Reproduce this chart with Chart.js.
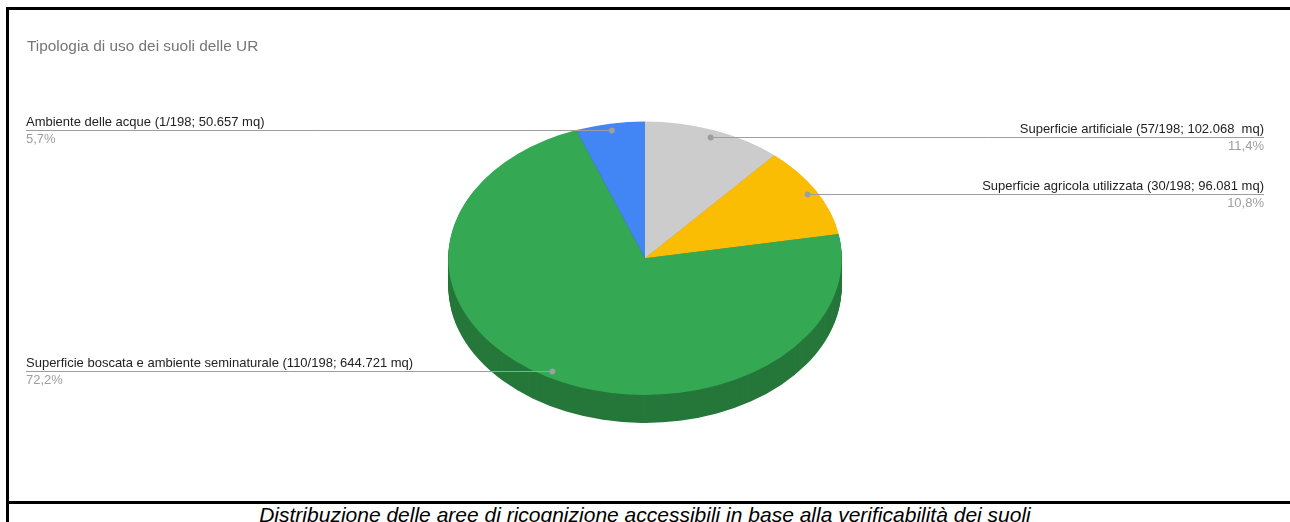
<!DOCTYPE html>
<html>
<head>
<meta charset="utf-8">
<script src="https://cdn.jsdelivr.net/npm/chart.js@4"></script>
<style>
  html, body { margin: 0; padding: 0; background: #fff; }
  body { width: 1290px; height: 522px; position: relative; overflow: hidden; font-family: "Liberation Sans", Arial, sans-serif; }
  #chart { position: absolute; left: 0; top: 0; }
  .frame { position: absolute; left: 6px; top: 7px; width: 1300px; height: 491px; border-left: 3px solid #000; border-top: 3px solid #000; border-bottom: 3px solid #000; }
  .frame-tail { position: absolute; left: 6px; top: 500px; height: 30px; border-left: 3px solid #000; }
  .caption { position: absolute; left: 9px; width: 1272px; top: 503px; text-align: center; font-style: italic; font-size: 21px; color: #000; white-space: nowrap; }
</style>
</head>
<body>
<div class="frame"></div>
<div class="frame-tail"></div>
<canvas id="chart" width="1290" height="500"></canvas>
<div class="caption">Distribuzione delle aree di ricognizione accessibili in base alla verificabilità dei suoli</div>
<script>
/* ---- data ---- */
const categories = [
  'Superficie artificiale (57/198; 102.068  mq)',
  'Superficie agricola utilizzata (30/198; 96.081 mq)',
  'Superficie boscata e ambiente seminaturale (110/198; 644.721 mq)',
  'Ambiente delle acque (1/198; 50.657 mq)'
];
const areas = [102.068, 96.081, 644.721, 50.657];
const topColors = ['#cccccc', '#fbbc04', '#34a853', '#4285f4'];
const sideColors = ['#9a9a9a', '#bd8d03', '#25773a', '#3164b8'];

const SQUASH = 0.695;   // vertical tilt of the pie
const DEPTH = 28;       // thickness of the pie in px

function tilt(ctx, cx, cy) {
  ctx.translate(cx, cy);
  ctx.scale(1, SQUASH);
  ctx.translate(-cx, -cy);
}

// 3D look: extrude darker copies of the slices, then draw the top face squashed
const pie3d = {
  id: 'pie3d',
  beforeDatasetsDraw(chart) {
    const ctx = chart.ctx;
    const arcs = chart.getDatasetMeta(0).data;
    const cx = arcs[0].x, cy = arcs[0].y;
    for (let d = DEPTH; d > 0; d--) {
      arcs.forEach((a, i) => {
        ctx.save();
        ctx.translate(0, d);
        tilt(ctx, cx, cy);
        ctx.beginPath();
        ctx.moveTo(a.x, a.y);
        ctx.arc(a.x, a.y, a.outerRadius, a.startAngle, a.endAngle);
        ctx.closePath();
        ctx.fillStyle = sideColors[i];
        ctx.fill();
        ctx.restore();
      });
    }
    ctx.save();
    tilt(ctx, cx, cy);
  },
  afterDatasetsDraw(chart) {
    chart.ctx.restore();
  }
};

// leader lines with category + percentage labels
const sliceLabels = {
  id: 'sliceLabels',
  afterDraw(chart) {
    const ctx = chart.ctx;
    const arcs = chart.getDatasetMeta(0).data;
    const total = areas.reduce((s, v) => s + v, 0);
    ctx.save();
    ctx.font = '13px "Liberation Sans", Arial, sans-serif';
    arcs.forEach((a, i) => {
      const mid = (a.startAngle + a.endAngle) / 2;
      const px = a.x + Math.cos(mid) * a.outerRadius * 0.95;
      const py = Math.round(a.y + Math.sin(mid) * a.outerRadius * 0.95 * SQUASH);
      const left = Math.cos(mid) < 0;
      const tx = left ? 26 : 1264;
      ctx.strokeStyle = '#9e9e9e';
      ctx.lineWidth = 1;
      ctx.beginPath();
      ctx.moveTo(px, py + 0.5);
      ctx.lineTo(tx, py + 0.5);
      ctx.stroke();
      ctx.fillStyle = '#9e9e9e';
      ctx.beginPath();
      ctx.arc(px, py + 0.5, 3, 0, Math.PI * 2);
      ctx.fill();
      ctx.textAlign = left ? 'left' : 'right';
      ctx.textBaseline = 'alphabetic';
      ctx.fillStyle = '#222222';
      ctx.fillText(categories[i], tx, py - 4);
      const pct = (areas[i] / total * 100).toFixed(1).replace('.', ',') + '%';
      ctx.fillStyle = '#9e9e9e';
      ctx.fillText(pct, tx, py + 13);
    });
    ctx.restore();
  }
};

new Chart(document.getElementById('chart'), {
  type: 'pie',
  data: {
    labels: categories,
    datasets: [{ data: areas, backgroundColor: topColors, borderWidth: 0 }]
  },
  options: {
    responsive: false,
    animation: false,
    events: [],
    layout: { padding: { top: 0, bottom: 45, left: 27, right: 27 } },
    plugins: {
      legend: { display: false },
      tooltip: { enabled: false },
      title: {
        display: true,
        text: 'Tipologia di uso dei suoli delle UR',
        align: 'start',
        color: '#757575',
        font: { family: '"Liberation Sans", Arial, sans-serif', size: 15.4, weight: 'normal' },
        padding: { top: 38, bottom: 5 }
      }
    }
  },
  plugins: [pie3d, sliceLabels]
});
</script>
</body>
</html>
